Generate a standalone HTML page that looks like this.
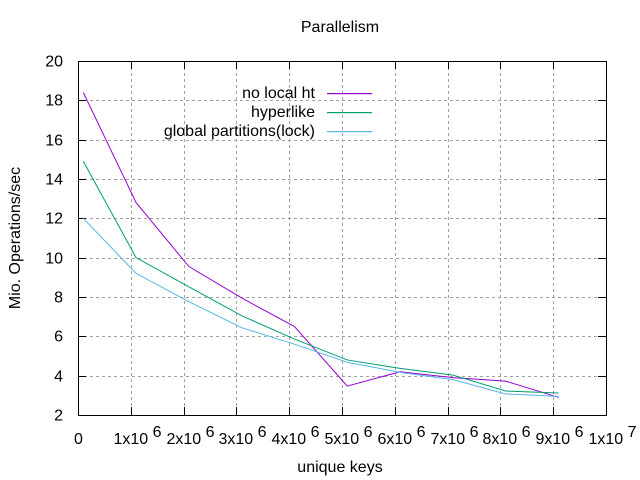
<!DOCTYPE html>
<html><head><meta charset="utf-8"><style>
body{margin:0;background:#fff}
svg{display:block;font-family:"Liberation Sans",sans-serif;font-size:16px}
</style></head><body>
<svg id="c" width="640" height="480" xmlns="http://www.w3.org/2000/svg">
<text x="340" y="32" text-anchor="middle">Parallelism</text>
<text x="0" y="0" transform="translate(20,238) rotate(-90)" text-anchor="middle">Mio. Operations/sec</text>
<text x="340" y="472" text-anchor="middle">unique keys</text>
<g id="grid"></g>
<g id="ticks"></g>
<g id="series"></g>
<rect x="78.5" y="61.5" width="528" height="354" fill="none" stroke="#000" stroke-width="1"/>
<g id="legend"></g>
</svg>
<script>
const xValues=[0.1,1.1,2.1,3.1,4.1,5.1,6.1,7.1,8.1,9.1];
const noLocalHt=[18.4,12.8,9.55,7.95,6.5,3.47,4.2,3.9,3.72,2.9];
const hyperlike=[14.9,10.0,8.52,7.05,5.86,4.8,4.37,4.03,3.22,3.12];
const globalPartitions=[12.0,9.2,7.76,6.44,5.6,4.68,4.17,3.8,3.07,2.95];
const yTicks=[2,4,6,8,10,12,14,16,18,20];
const xTicks=[0,1,2,3,4,5,6,7,8,9,10];
const L=78,R=606,T=61,B=415;
const xs=v=>L+(v/10)*(R-L);
const ys=v=>B-(v-2)/18*(B-T);
const NS="http://www.w3.org/2000/svg";
function mk(tag,attrs,parent){const e=document.createElementNS(NS,tag);for(const k in attrs)e.setAttribute(k,attrs[k]);parent.appendChild(e);return e;}
const grid=document.getElementById('grid'),ticks=document.getElementById('ticks');
yTicks.forEach(v=>{const y=Math.round(ys(v))+0.5;
 if(v>2&&v<20){const g=mk('line',{x1:L,x2:R,y1:y,y2:y,stroke:'#a0a0a0','stroke-dasharray':'3,3'},grid);
 }
 mk('line',{x1:L,x2:L+8,y1:y,y2:y,stroke:'#000'},ticks);mk('line',{x1:R-8,x2:R,y1:y,y2:y,stroke:'#000'},ticks);
 const t=mk('text',{x:L-15,y:y+5,'text-anchor':'end'},ticks);t.textContent=v;
 });
xTicks.forEach(v=>{const x=Math.round(xs(v))+0.5;
 if(v>0&&v<10){const g=mk('line',{x1:x,x2:x,y1:T,y2:B,stroke:'#a0a0a0','stroke-dasharray':'3,3'},grid);
 }
 mk('line',{x1:x,x2:x,y1:B-8,y2:B,stroke:'#000'},ticks);mk('line',{x1:x,x2:x,y1:T,y2:T+8,stroke:'#000'},ticks);
 const t=mk('text',{x:x,y:444,'text-anchor':'middle'},ticks);
 if(v===0)t.textContent='0';
 else{const a=v===10?'1x10':v+'x10';const e=v===10?'7':'6';
  t.textContent=a+' ';const s=document.createElementNS(NS,'tspan');s.setAttribute('dy','-7');s.textContent=e;t.appendChild(s);
  t.setAttribute('x',x+6);}
 });
const seriesList=[['no local ht',noLocalHt,'#9400d3'],['hyperlike',hyperlike,'#009e73'],['global partitions(lock)',globalPartitions,'#56b4e9']];
const sg=document.getElementById('series'),lg=document.getElementById('legend');
seriesList.forEach((s,i)=>{
 const p=mk('polyline',{points:xValues.map((x,j)=>xs(x)+','+ys(s[1][j])).join(' '),fill:'none',stroke:s[2],'stroke-width':1},sg);
 
 const y=93+i*19;
 const t=mk('text',{x:315,y:y+5,'text-anchor':'end'},lg);t.textContent=s[0];
 
 const l=mk('rect',{x:327,y:y,width:45,height:1.2,fill:s[2]},lg);
 
});
</script>
</body></html>
